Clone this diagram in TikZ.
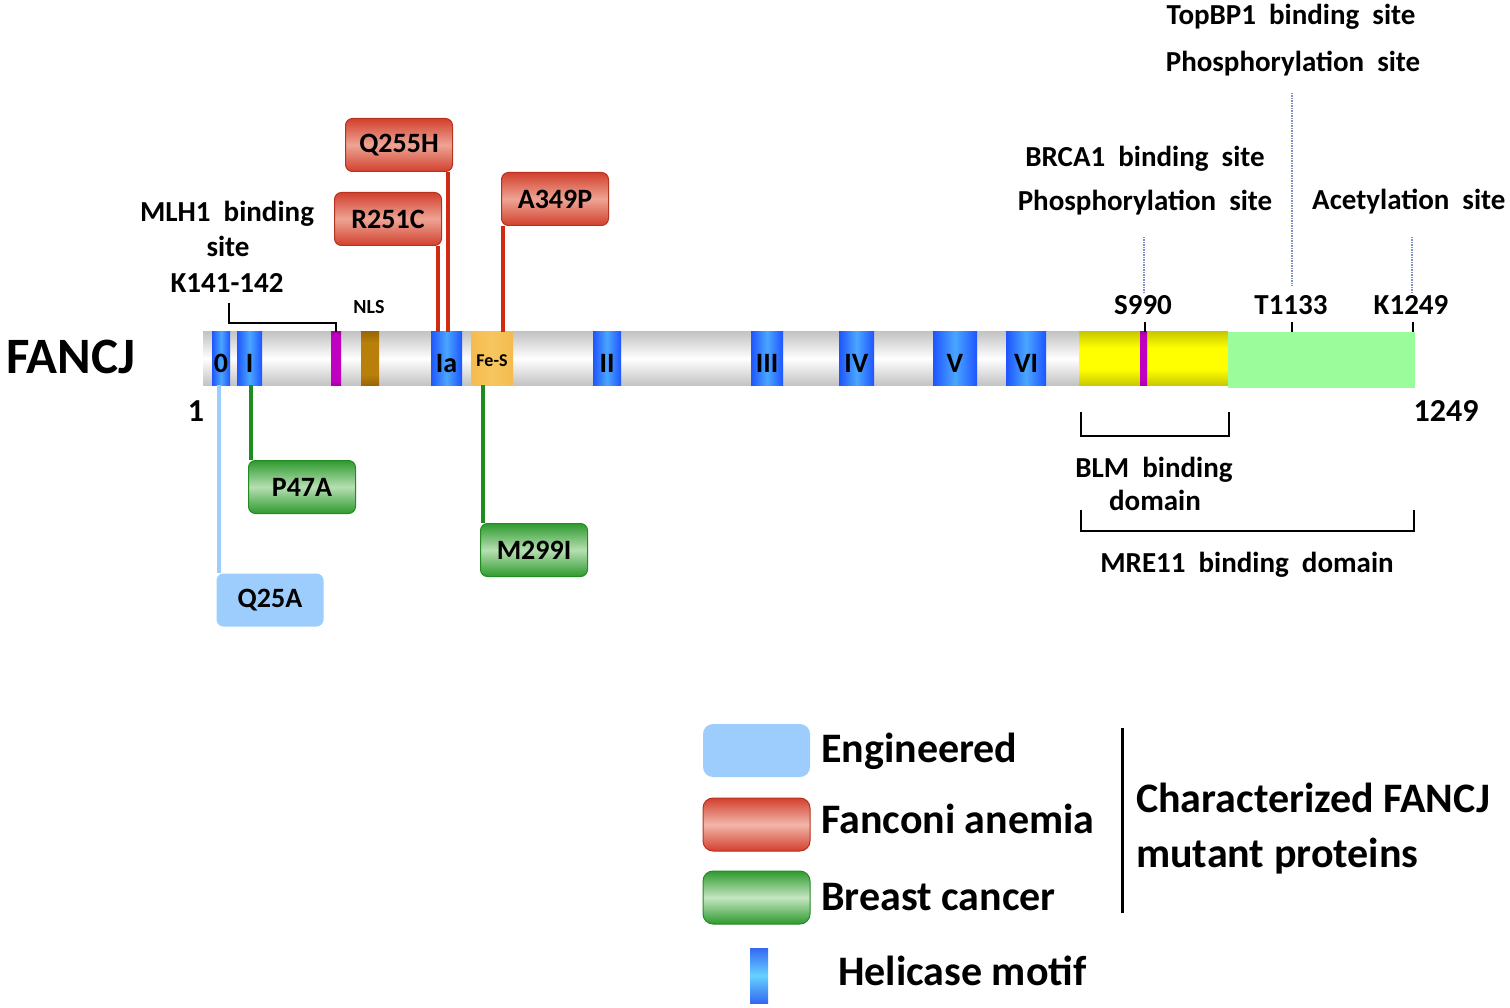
\documentclass[tikz,border=0pt]{standalone}
\usepackage{fontspec}
\setmainfont{Carlito}
\definecolor{redE}{HTML}{D2402E}
\definecolor{redM}{HTML}{EEA494}
\definecolor{redD}{HTML}{B83220}
\definecolor{grnE}{HTML}{2E9A2E}
\definecolor{grnM}{HTML}{B6DFB2}
\definecolor{grnD}{HTML}{238B23}
\definecolor{ltblue}{HTML}{9DCDFD}
\definecolor{redline}{HTML}{D02A10}
\definecolor{grnline}{HTML}{1C8C1C}
\definecolor{hblue}{HTML}{1E55FF}
\definecolor{hlight}{HTML}{4AA6FF}
\definecolor{paleg}{HTML}{9AFC9A}
\definecolor{dotc}{HTML}{7F90C8}
\definecolor{feso}{HTML}{F0B040}
\definecolor{fesl}{HTML}{F7C65E}
\definecolor{brnE}{HTML}{4A2A00}
\definecolor{brnM}{HTML}{B8800A}
\definecolor{purE}{HTML}{2A002A}
\definecolor{purM}{HTML}{C000C0}
\pgfdeclareverticalshading{barshade}{100bp}{color(0bp)=(black!55); color(20bp)=(black!28); color(50bp)=(white); color(80bp)=(black!28); color(100bp)=(black!55)}
\pgfdeclareverticalshading{yelshade}{100bp}{color(0bp)=(black); color(22bp)=(yellow!75!black); color(40bp)=(yellow); color(60bp)=(yellow); color(78bp)=(yellow!75!black); color(100bp)=(black)}
\pgfdeclarehorizontalshading{blushade}{100bp}{color(0bp)=(hblue); color(25bp)=(hblue); color(50bp)=(hlight); color(75bp)=(hblue); color(100bp)=(hblue)}
\pgfdeclarehorizontalshading{feshade}{100bp}{color(0bp)=(feso); color(50bp)=(fesl); color(100bp)=(feso)}
\pgfdeclareverticalshading{magshade}{100bp}{color(0bp)=(purE); color(30bp)=(purM); color(70bp)=(purM); color(100bp)=(purE)}
\pgfdeclareverticalshading{brnshade}{100bp}{color(0bp)=(brnE); color(35bp)=(brnM); color(65bp)=(brnM); color(100bp)=(brnE)}
\pgfdeclareverticalshading{helshade}{100bp}{color(0bp)=(blue!90!black); color(50bp)=(cyan!70!blue!60!white); color(100bp)=(blue!90!black)}
\newcommand\myfs[1]{\fontsize{#1}{#1}\selectfont\bfseries\spaceskip=0.45em\relax}
\newcommand\legfs{\fontsize{42}{42}\selectfont\bfseries}
\begin{document}
\begin{tikzpicture}[x=1pt,y=-1pt,
  lbl/.style={font=\myfs{29}, inner sep=0pt, anchor=base},
  mutbox/.style={rounded corners=7pt, minimum width=107pt, minimum height=53pt, inner sep=0pt, font=\myfs{28}},
  redbox/.style={mutbox, draw=redD, line width=1pt, top color=redE, bottom color=redE, middle color=redM},
  grnbox/.style={mutbox, draw=grnD, line width=1pt, top color=grnE, bottom color=grnE, middle color=grnM},
  blubox/.style={mutbox, fill=ltblue},
  legbox/.style={rounded corners=10pt, minimum width=107pt, minimum height=53pt, inner sep=0pt},
  redln/.style={draw=redline, line width=3.5pt},
  grnln/.style={draw=grnline, line width=3.5pt},
  bluln/.style={draw=ltblue, line width=3.5pt},
  blk/.style={draw=black, line width=1.6pt},
  dotln/.style={draw=dotc, line width=1.2pt, dash pattern=on 1.2pt off 1.3pt},
  motif/.style={font=\myfs{28}, inner sep=0pt, anchor=base},
  legtxt/.style={font=\legfs, inner sep=0pt, anchor=base west}
]
\useasboundingbox (0,0) rectangle (1510,1008);

% ---------- protein bar ----------
\shade[shading=barshade] (203,332) rectangle (1079,385);
\shade[shading=yelshade] (1079,332) rectangle (1228,385);
\fill[paleg] (1228,332) rectangle (1415,388);
\shade[shading=magshade] (1140,332) rectangle (1147,385);
\shade[shading=magshade] (331,332) rectangle (341,385);
\shade[shading=brnshade] (361,332) rectangle (379,385);
\shade[shading=feshade] (471,332) rectangle (513,385);
\foreach \a/\b/\t in {212/230/0, 237/262/I, 431/462/Ia, 593/621/II, 751/783/III, 839/874/IV, 933/977/V, 1006/1046/VI}{
  \shade[shading=blushade] (\a,332) rectangle (\b,385);
  \node[motif] (m\t) at ({(\a+\b)/2},372) {\t};
}
\node[font=\myfs{18}, inner sep=0pt, anchor=base] (mFeS) at (492,366) {Fe-S};

\node[font=\fontsize{51}{51}\selectfont\bfseries, inner sep=0pt, anchor=base west] (fancj) at (6,373) {FANCJ};
\node[font=\myfs{32}, inner sep=0pt, anchor=base] (n1) at (196,421) {1};
\node[font=\myfs{32}, inner sep=0pt, anchor=base] (n1249) at (1446,421) {1249};

% ---------- upper annotations ----------
\node[lbl] (mlh1) at (227,222) {MLH1 binding};
\node[lbl] (mlh2) at (228,257) {site};
\node[lbl] (mlh3) at (227,293) {K141-142};
\node[font=\myfs{20}, inner sep=0pt, anchor=base] (nls) at (369,313) {NLS};
\coordinate (mlhA) at (229,303);
\coordinate (mlhB) at (336,332);
\draw[blk] (mlhA) |- (336,323) -- (mlhB);

\node[lbl] (topb1) at (1291,25) {TopBP1 binding site};
\node[lbl] (topb2) at (1293,72) {Phosphorylation site};
\node[lbl] (brca1) at (1145,167) {BRCA1 binding site};
\node[lbl] (brca2) at (1145,211) {Phosphorylation site};
\node[lbl, anchor=base west] (acet) at (1312,210) {Acetylation site};
\node[lbl] (s990) at (1143,315) {S990};
\node[lbl] (t1133) at (1291,315) {T1133};
\node[lbl] (k1249) at (1411,315) {K1249};

\coordinate (dS1) at (1144,237); \coordinate (dS2) at (1144,293);
\coordinate (dT1) at (1292,93);  \coordinate (dT2) at (1292,286);
\coordinate (dK1) at (1412,237); \coordinate (dK2) at (1412,293);
\draw[dotln] (dS1) -- (dS2);
\draw[dotln] (dT1) -- (dT2);
\draw[dotln] (dK1) -- (dK2);

\coordinate (tS) at (1145,322); \coordinate (tT) at (1292,322); \coordinate (tK) at (1413,322);
\draw[blk] (tS) -- ++(0,10);
\draw[blk] (tT) -- ++(0,10);
\draw[blk] (tK) -- ++(0,10);

% ---------- mutations ----------
\node[redbox] (q255h) at (399,145) {Q255H};
\node[redbox] (r251c) at (388,219) {R251C};
\node[redbox] (a349p) at (555,199) {A349P};
\coordinate (pq255h) at (448,332);
\coordinate (pr251c) at (438,332);
\coordinate (pa349p) at (503,332);
\draw[redln] (q255h.south -| pq255h) -- (pq255h);
\draw[redln] (r251c.south -| pr251c) -- (pr251c);
\draw[redln] (a349p.south -| pa349p) -- (pa349p);

\node[grnbox] (p47a) at (302,487) {P47A};
\node[grnbox] (m299i) at (534,550) {M299I};
\node[blubox] (q25a) at (270,600) {Q25A};
\coordinate (pp47a) at (251,385);
\coordinate (pm299i) at (483,385);
\coordinate (pq25a) at (219,385);
\draw[grnln] (pp47a) -- (pp47a |- p47a.north);
\draw[grnln] (pm299i) -- (pm299i |- m299i.north);
\draw[bluln] (pq25a) -- (pq25a |- q25a.north);

% ---------- domains ----------
\draw[blk] (1081,412) -- (1081,436) -- (1229,436) -- (1229,412);
\node[lbl] (blm1) at (1154,477) {BLM binding};
\node[lbl] (blm2) at (1155,510) {domain};
\draw[blk] (1081,510) -- (1081,531) -- (1414,531) -- (1414,510);
\node[lbl] (mre) at (1247,572) {MRE11 binding domain};

% ---------- legend ----------
\node[legbox, fill=ltblue] (legE) at (756.5,750.5) {};
\node[legbox, draw=redD, line width=1pt, top color=redE, bottom color=redE, middle color=redM!80!white] (legF) at (756.5,824.5) {};
\node[legbox, draw=grnD, line width=1pt, top color=grnE, bottom color=grnE, middle color=grnM!80!white] (legB) at (756.5,897.5) {};
\node[legtxt] (tE) at (821,762) {Engineered};
\node[legtxt] (tF) at (821,833) {Fanconi anemia};
\node[legtxt] (tB) at (821,910) {Breast cancer};
\draw[draw=black, line width=3pt] (1122,728) -- (1122,913);
\node[legtxt] (tC1) at (1136,812) {Characterized FANCJ};
\node[legtxt] (tC2) at (1136,867) {mutant proteins};
\shade[shading=helshade] (750,948) rectangle (768,1003);
\node[legtxt] (tH) at (838,985) {Helicase motif};
\end{tikzpicture}
\end{document}
